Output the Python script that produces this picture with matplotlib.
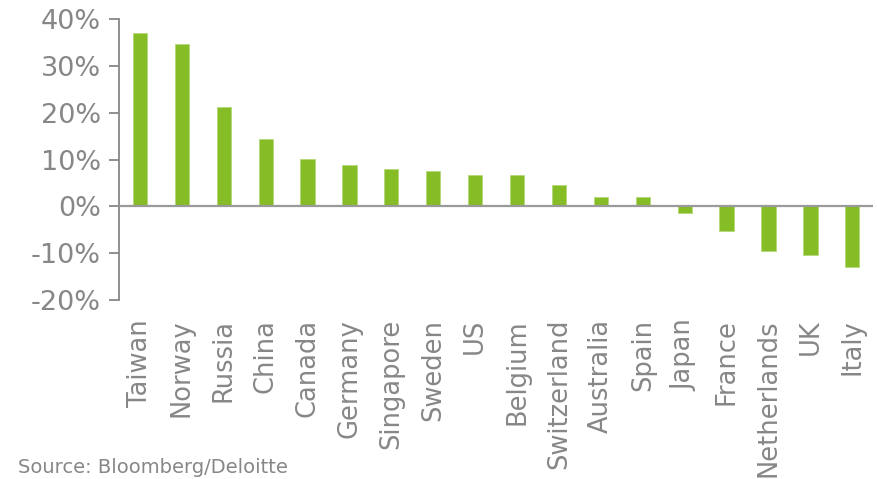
import matplotlib
matplotlib.use("Agg")
import matplotlib.pyplot as plt
import numpy as np
from matplotlib.ticker import FuncFormatter

# Data
countries = ["Taiwan", "Norway", "Russia", "China", "Canada", "Germany",
             "Singapore", "Sweden", "US", "Belgium", "Switzerland",
             "Australia", "Spain", "Japan", "France", "Netherlands", "UK",
             "Italy"]
returns = [37.2, 34.7, 21.3, 14.4, 10.1, 8.8, 7.9, 7.5, 6.6, 6.6, 4.5,
           1.9, 1.9, -1.4, -5.3, -9.6, -10.5, -13.1]
yticks = [-20, -10, 0, 10, 20, 30, 40]

green = "#86BC25"
grey = "#878787"

plt.rcParams["font.family"] = ["DejaVu Sans"]

fig = plt.figure(figsize=(8.77, 4.79), dpi=100)
ax = fig.add_axes([0.1357, 0.3747, 0.86, 0.5846])

x = np.arange(len(countries))
ax.bar(x, returns, width=0.34, color=green, edgecolor="#B5D97A",
       linewidth=0.6, zorder=2)
ax.axhline(0, color="#9A9A9A", linewidth=1.6, zorder=3)

ax.set_xlim(-0.5, len(countries) - 0.5)
ax.set_ylim(-20, 40)
ax.set_yticks(yticks)
ax.yaxis.set_major_formatter(FuncFormatter(lambda v, _: f"{v:.0f}%"))
ax.set_xticks(x)
ax.set_xticklabels(countries, rotation=90, va="top", ha="center")

ax.tick_params(axis="y", direction="out", length=7, width=1.3, color=grey,
               labelcolor=grey, labelsize=19.5, pad=6)
ax.tick_params(axis="x", length=0, labelcolor=grey, labelsize=18.5, pad=14)

for side in ["top", "right", "bottom"]:
    ax.spines[side].set_visible(False)
ax.spines["left"].set_color(grey)
ax.spines["left"].set_linewidth(1.3)

fig.text(0.02, 0.004, "Source: Bloomberg/Deloitte", color=grey,
         fontsize=14, ha="left", va="bottom")

fig.savefig("out.png", dpi=100)
